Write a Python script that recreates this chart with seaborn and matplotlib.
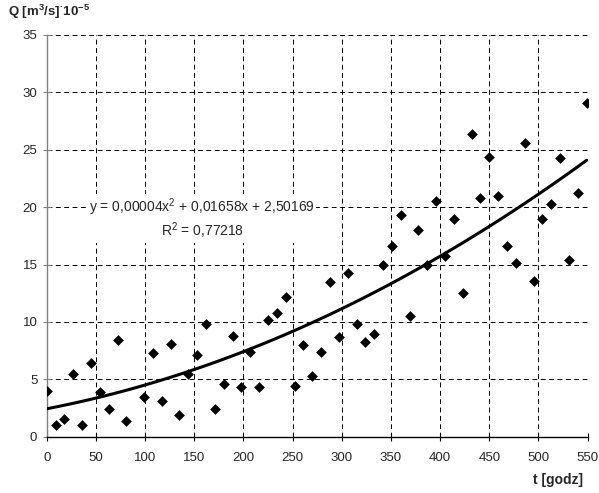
import numpy as np
import pandas as pd
import matplotlib
matplotlib.use("Agg")
import matplotlib.pyplot as plt
import seaborn as sns

# ---- data ----
t_hours = [0, 9, 18, 27, 36, 45, 54, 63, 72, 81,
           99, 108, 117, 126, 135, 144, 153, 162, 171, 180,
           189, 198, 207, 216, 225, 234, 243, 252, 261, 270,
           279, 288, 297, 306, 315, 324, 333, 342, 351, 360,
           369, 378, 387, 396, 405, 414, 423, 432, 441, 450,
           459, 468, 477, 486, 495, 504, 513, 522, 531, 540, 549]
q_values = [3.95, 1.0, 1.55, 5.5, 1.0, 6.45, 3.9, 2.45, 8.4, 1.4,
            3.45, 7.25, 3.15, 8.1, 1.9, 5.45, 7.15, 9.85, 2.4, 4.6,
            8.75, 4.35, 7.4, 4.35, 10.15, 10.75, 12.2, 4.4, 7.95, 5.25,
            7.35, 13.45, 8.65, 14.3, 9.85, 8.25, 8.95, 15.0, 16.6, 19.3,
            10.55, 18.0, 15.0, 20.5, 15.7, 19.0, 12.5, 26.35, 20.75, 24.35,
            21.0, 16.6, 15.1, 25.6, 13.6, 19.0, 20.3, 24.25, 15.35, 21.25, 29.05]
x_ticks = [0, 50, 100, 150, 200, 250, 300, 350, 400, 450, 500, 550]
y_ticks = [0, 5, 10, 15, 20, 25, 30, 35]
equation_text = "y = 0,00004x$^2$ + 0,01658x + 2,50169\nR$^2$ = 0,77218"
x_label = "t [godz]"
y_label = r"$\mathbf{Q\ [m^3/s]^{·}10^{-5}}$"

df = pd.DataFrame({"t": t_hours, "Q": q_values})

sns.set_style("white")
plt.rcParams["font.family"] = ["Liberation Sans", "DejaVu Sans"]
plt.rcParams["mathtext.fontset"] = "custom"
plt.rcParams["mathtext.rm"] = "Liberation Sans"
plt.rcParams["mathtext.it"] = "Liberation Sans:italic"
plt.rcParams["mathtext.bf"] = "Liberation Sans:bold"

fig = plt.figure(figsize=(5.99, 4.93), dpi=100)
ax = fig.add_axes([0.078, 0.1142, 0.903, 0.815])

# trend line (2nd order polynomial fit over the data range)
sns.regplot(data=df, x="t", y="Q", order=2, ci=None, scatter=False,
            truncate=True, ax=ax,
            line_kws=dict(color="black", lw=2.2, zorder=3))
# points
sns.scatterplot(data=df, x="t", y="Q", marker="D", s=30, color="black",
                edgecolor="black", linewidth=0, ax=ax, zorder=4)

ax.set_xlim(0, 550)
ax.set_ylim(0, 35)
ax.set_xticks(x_ticks)
ax.set_yticks(y_ticks)
ax.set_xlabel("")
ax.set_ylabel("")

ax.grid(True, color="black", lw=0.7, linestyle=(0, (5, 3.6)), zorder=1)
ax.set_axisbelow(True)

for side in ["top", "right"]:
    ax.spines[side].set_visible(False)
ax.spines["left"].set_color("#808080")
ax.spines["left"].set_linewidth(1.0)
ax.spines["bottom"].set_color("black")
ax.spines["bottom"].set_linewidth(1.0)

ax.tick_params(axis="x", direction="inout", length=5.5, width=0.8, color="black",
               labelsize=9.5, pad=8)
ax.tick_params(axis="y", direction="inout", length=5.5, width=0.8, color="#808080",
               labelsize=9.5, pad=4)
ax.tick_params(axis="y", left=True)
ax.tick_params(axis="x", bottom=True)

ax.text(158, 20.9, equation_text, ha="center", va="top", fontsize=10,
        linespacing=1.15, multialignment="center",
        transform=ax.transData, zorder=5,
        bbox=dict(facecolor="white", edgecolor="none", pad=1.0))

fig.text(0.014, 0.9675, y_label, ha="left", va="baseline", fontsize=9.5)
fig.text(0.974, 0.018, x_label, ha="right", va="baseline", fontsize=10,
         fontweight="bold")

fig.savefig("out.png", dpi=100)
